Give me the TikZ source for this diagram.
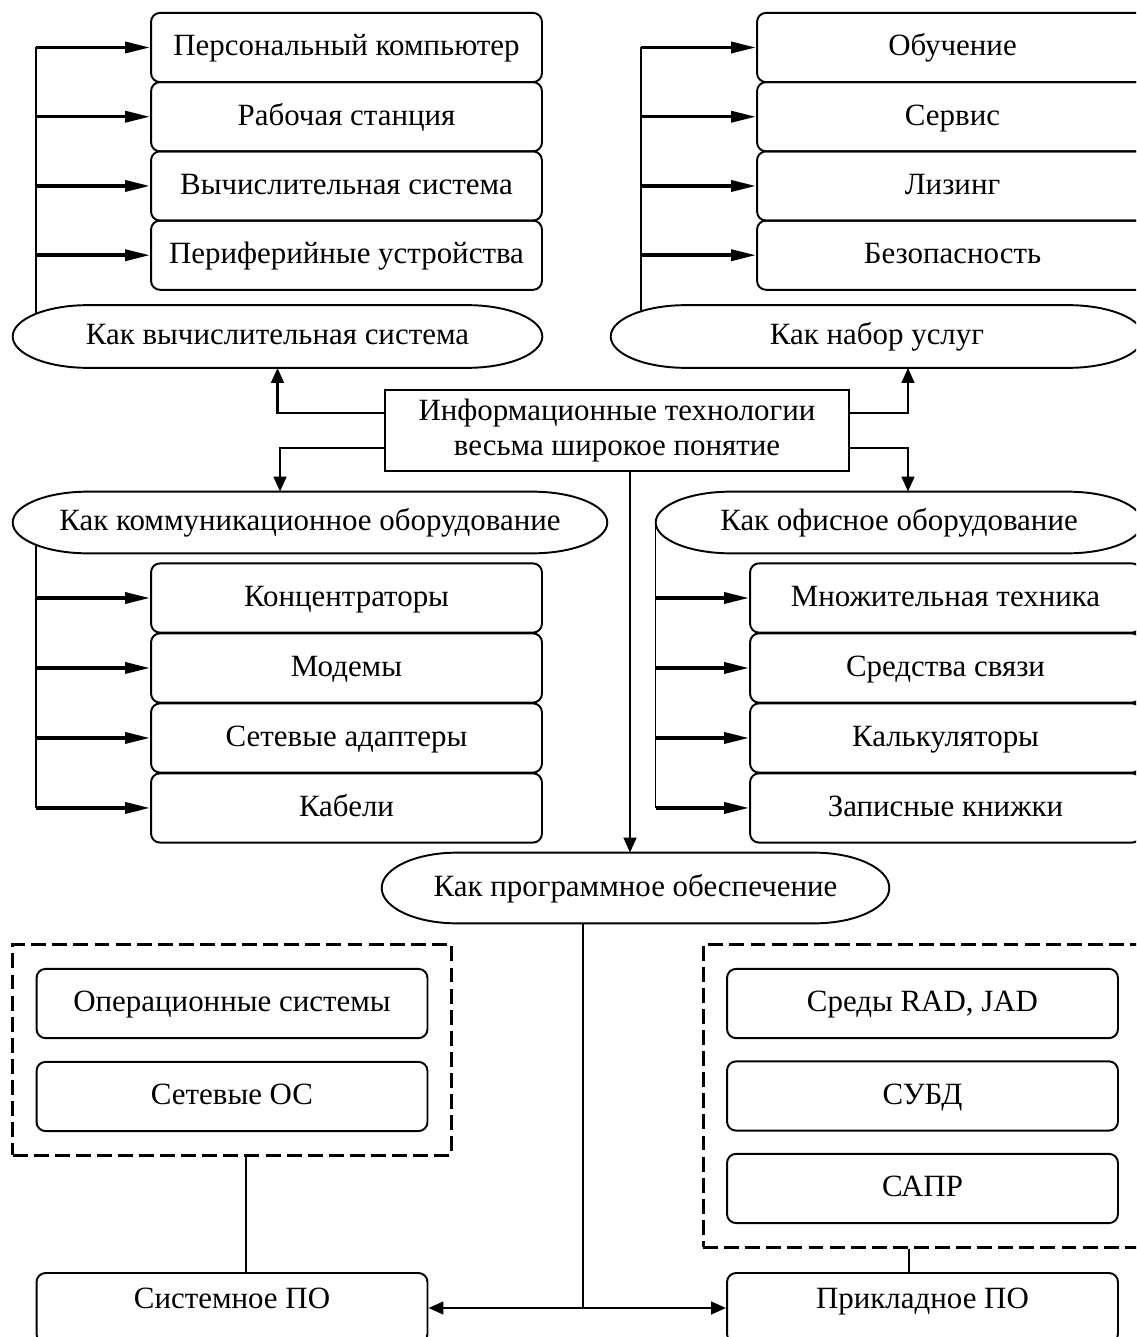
\documentclass[tikz,border=0pt]{standalone}
\usepackage{fontspec}
\setmainfont{Liberation Serif}
\usetikzlibrary{arrows.meta,calc,fit,positioning}

\begin{document}
\begin{tikzpicture}[%
x=0.02cm, y=-0.02cm,
>={Triangle[length=0.3cm,width=0.25cm]},
node distance=1.385cm,
on grid,
font=\fontsize{17.6pt}{20pt}\selectfont,
txt/.style={text height=12.5pt, text depth=3pt},
item/.style={draw, line width=1.1pt, rounded corners=0.18cm, minimum width=7.82cm, minimum height=1.385cm, inner sep=0pt, txt},
oval/.style={minimum height=1.24cm, inner sep=0pt, txt},
outline/.style={line width=1.1pt},
bus/.style={line width=0.85pt},
feed/.style={line width=2pt, -{Triangle[length=0.5cm,width=0.22cm]}},
link/.style={line width=1.6pt, ->},
group/.style={draw, line width=1.7pt, dash pattern=on 8.5pt off 3.5pt, inner sep=0.46cm}
]
\useasboundingbox (0,0) rectangle (1136,1337);
\clip (0,0) rectangle (1136,1337);

% hardware
\node[item] (pc) at (346.5,47.5) {Персональный компьютер};
\node[item] (ws) [below=of pc] {Рабочая станция};
\node[item] (vsys) [below=of ws] {Вычислительная система};
\node[item] (per) [below=of vsys] {Периферийные устройства};
\node[oval, minimum width=10.58cm] (ovs) at (277.5,336.5) {Как вычислительная система};

% services
\node[item] (ob) at (952.5,47.5) {Обучение};
\node[item] (ser) [below=of ob] {Сервис};
\node[item] (liz) [below=of ser] {Лизинг};
\node[item] (bez) [below=of liz] {Безопасность};
\node[oval, minimum width=10.64cm] (ons) at (877,336.5) {Как набор услуг};

\node[draw, line width=1.1pt, minimum width=9.28cm, minimum height=1.62cm, align=center] (it) at (617,430.5)
  {Информационные технологии\\весьма широкое понятие};

% communication
\node[oval, minimum width=11.88cm, minimum height=1.22cm] (okom) at (310,522.5) {Как коммуникационное оборудование};
\node[item] (konc) at (346.5,598) {Концентраторы};
\node[item] (mod) [below=1.4cm of konc] {Модемы};
\node[item] (seta) [below=1.4cm of mod] {Сетевые адаптеры};
\node[item] (kab) [below=1.4cm of seta] {Кабели};

% office
\node[oval, minimum width=9.72cm, minimum height=1.22cm] (oof) at (899,522.5) {Как офисное оборудование};
\node[item] (mt) at (945.5,598) {Множительная техника};
\node[item] (ss) [below=1.4cm of mt] {Средства связи};
\node[item] (kalk) [below=1.4cm of ss] {Калькуляторы};
\node[item] (zk) [below=1.4cm of kalk] {Записные книжки};

% software
\node[oval, minimum width=10.14cm, minimum height=1.4cm] (opo) at (635.5,888) {Как программное обеспечение};
\node[item] (os) at (232,1003.5) {Операционные системы};
\node[item] (nos) [below=1.86cm of os] {Сетевые ОС};
\node[group, fit=(os)(nos)] (lgrp) {};
\node[item] (rad) at (922.5,1003.5) {Среды RAD, JAD};
\node[item] (subd) [below=1.85cm of rad] {СУБД};
\node[item] (sapr) [below=1.85cm of subd] {САПР};
\node[group, fit=(rad)(sapr)] (rgrp) {};
\node[item, minimum height=1.4cm, text depth=12pt] (sysp) at (232,1308) {Системное ПО};
\node[item, minimum height=1.4cm, text depth=12pt] (prip) at (922.5,1308) {Прикладное ПО};

% oval outlines
\foreach \o in {ovs,ons,okom,oof,opo}
  \draw[outline] let \p1=(\o.north), \p2=(\o.south), \n1={(\y1-\y2)/2} in
    ([xshift=1.5cm]\o.north west) -- ([xshift=-1.5cm]\o.north east)
    arc[start angle=90, end angle=-90, x radius=1.5cm, y radius=\n1]
    -- ([xshift=1.5cm]\o.south west)
    arc[start angle=270, end angle=90, x radius=1.5cm, y radius=\n1] -- cycle;

% buses
\coordinate (tlb) at (36,314);
\draw[bus] (tlb) -- (tlb |- pc.west);
\foreach \n in {pc,ws,vsys,per} \draw[feed] (tlb |- \n.west) -- (\n.west);

\coordinate (trb) at (641,312);
\draw[bus] (trb) -- (trb |- ob.west);
\foreach \n in {ob,ser,liz,bez} \draw[feed] (trb |- \n.west) -- (\n.west);

\coordinate (mlb) at (36,544);
\draw[bus] (mlb) -- (mlb |- kab.west);
\foreach \n in {konc,mod,seta,kab} \draw[feed] (mlb |- \n.west) -- (\n.west);

\draw[bus] (oof.west) -- (oof.west |- zk.west);
\foreach \n in {mt,ss,kalk,zk} \draw[feed] (oof.west |- \n.west) -- (\n.west);

% from the centre
\draw[link] ([yshift=0.35cm]it.west) -| (ovs.south);
\draw[link] ([yshift=0.35cm]it.east) -| ([xshift=0.62cm]ons.south);
\draw[link] ([yshift=-0.35cm]it.west) -| ([xshift=-0.6cm]okom.north);
\draw[link] ([yshift=-0.35cm]it.east) -| ([xshift=0.18cm]oof.north);
\draw[link] ([xshift=0.26cm]it.south) -- ([xshift=0.26cm]it.south |- opo.north);

% software
\coordinate (jn) at (583,1308);
\draw[bus, line width=0.6pt] (opo.south -| jn) -- (jn);
\draw[link, <->] (sysp.east) -- (prip.west);
\draw[bus] ([xshift=0.28cm]lgrp.south) -- ([xshift=0.28cm]sysp.north);
\draw[bus] ([xshift=-0.27cm]rgrp.south) -- ([xshift=-0.27cm]prip.north);

\end{tikzpicture}
\end{document}
